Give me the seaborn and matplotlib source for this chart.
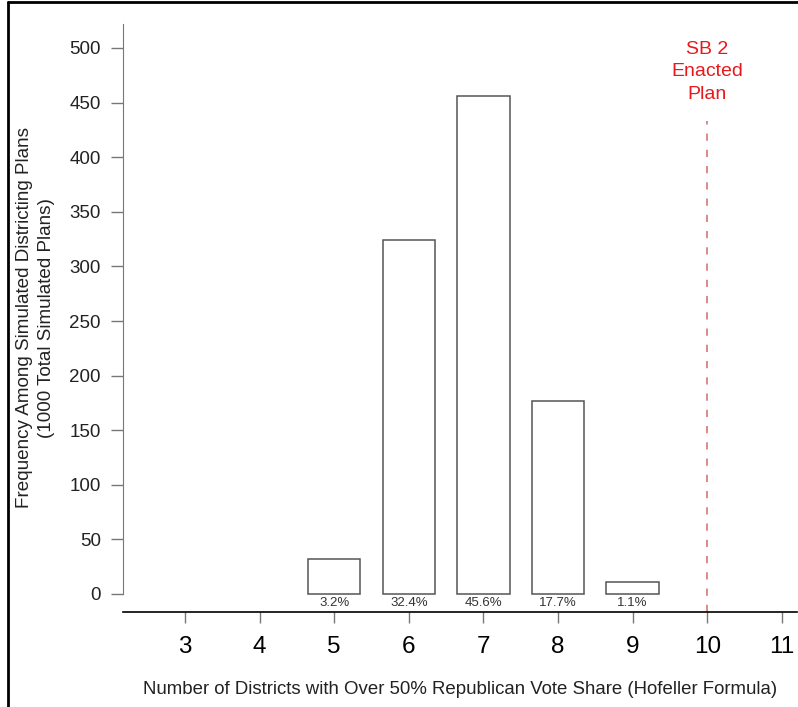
import matplotlib
matplotlib.use("Agg")
import matplotlib.pyplot as plt
import seaborn as sns
import pandas as pd
from matplotlib.lines import Line2D

districts = [5, 6, 7, 8, 9]
counts = [32, 324, 456, 177, 11]
pct_labels = ["3.2%", "32.4%", "45.6%", "17.7%", "1.1%"]
x_ticks = [3, 4, 5, 6, 7, 8, 9, 10, 11]
y_ticks = [0, 50, 100, 150, 200, 250, 300, 350, 400, 450, 500]
enacted = 10

sns.set_style("white")
plt.rcParams['font.family'] = ['Liberation Sans', 'DejaVu Sans']

W, H = 798, 707
fig = plt.figure(figsize=(W / 100, H / 100), dpi=100)

# axes box in pixels: left 123, right 797, top 24, bottom 612
ax = fig.add_axes([123 / W, 1 - 612 / H, (797 - 123) / W, (612 - 24) / H])

df = pd.DataFrame({"districts": districts, "count": counts})
sns.barplot(data=df, x="districts", y="count", native_scale=True, width=0.7,
            color="white", edgecolor="#555555", linewidth=1.1, ax=ax)

px_per_unit = 74.6
ax.set_xlim(3 - (185 - 123) / px_per_unit, 3 + (797 - 185) / px_per_unit)
ypx = 1.092
ax.set_ylim(-(612 - 594) / ypx, (594 - 24) / ypx)

for d, lab in zip(districts, pct_labels):
    ax.text(d, -3, lab, ha="center", va="top", fontsize=9.5, color="#333333")

ax.axvline(enacted, ymin=0, ymax=(612 - 121) / (612 - 24),
           color="#d98080", linestyle=(0, (4, 5)), linewidth=1.3)
ax.text(enacted, (594 - 72) / ypx, "SB 2\nEnacted\nPlan", ha="center", va="center",
        color="#e8191c", fontsize=14, linespacing=1.4)

for s in ["top", "right"]:
    ax.spines[s].set_visible(False)
ax.spines["left"].set_bounds(0, (594 - 24) / ypx)
ax.spines["left"].set_color("#777777")
ax.spines["bottom"].set_color("black")
ax.spines["bottom"].set_linewidth(1.2)

ax.set_xticks(x_ticks)
ax.set_yticks(y_ticks)
ax.tick_params(axis="y", direction="out", length=9, width=1, color="#777777",
               labelsize=13.5, labelcolor="#222222", pad=7, left=True)
ax.tick_params(axis="x", direction="out", length=8, width=1, color="#777777",
               labelsize=17.5, labelcolor="black", pad=9, bottom=True)

ax.set_xlabel("Number of Districts with Over 50% Republican Vote Share (Hofeller Formula)",
              fontsize=13.4, color="#222222", labelpad=17)
ax.set_ylabel("")
fig.text(25 / W, 1 - 318 / H, "Frequency Among Simulated Districting Plans",
         rotation=90, ha="center", va="center", fontsize=13.6, color="#222222")
fig.text(47 / W, 1 - 318 / H, "(1000 Total Simulated Plans)",
         rotation=90, ha="center", va="center", fontsize=13.6, color="#222222")

# outer frame (left and top edges visible in reference)
fig.add_artist(Line2D([8 / W, 8 / W], [0, 1 - 2 / H], color="black", linewidth=2,
                      transform=fig.transFigure))
fig.add_artist(Line2D([8 / W, 1], [1 - 2 / H, 1 - 2 / H], color="black", linewidth=2,
                      transform=fig.transFigure))

fig.savefig("out.png", dpi=100)
